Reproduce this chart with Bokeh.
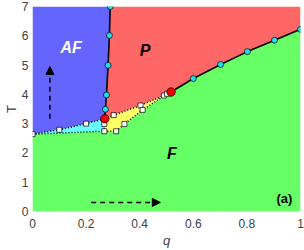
from bokeh.plotting import figure
from bokeh.models import Arrow, NormalHead, Label
from bokeh.embed import file_html
from bokeh.resources import INLINE

# ---- data ----
af_p_q = [0.270, 0.272, 0.276, 0.282, 0.287, 0.290]
af_p_T = [3.17, 3.49, 3.98, 4.99, 6.01, 7.00]
p_f_q = [0.517, 0.600, 0.702, 0.802, 0.903, 1.000]
p_f_T = [4.08, 4.54, 5.02, 5.46, 5.85, 6.22]
tri_q = [0.270, 0.517]
tri_T = [3.17, 4.08]
cyan_top_q = [0.000, 0.100, 0.200, 0.270]
cyan_top_T = [2.64, 2.79, 3.00, 3.17]
cyan_bot_q = [0.000, 0.268]
cyan_bot_T = [2.64, 2.74]
cy_vert_q = [0.270, 0.268, 0.268]
cy_vert_T = [3.17, 2.99, 2.74]
yel_top_q = [0.270, 0.303, 0.403, 0.490, 0.517]
yel_top_T = [3.17, 3.29, 3.62, 3.96, 4.08]
yel_bot_q = [0.268, 0.312, 0.343, 0.411, 0.502, 0.517]
yel_bot_T = [2.74, 2.74, 2.99, 3.47, 4.02, 4.08]
sq_q = [0.000, 0.100, 0.200, 0.268, 0.268, 0.303, 0.312, 0.343, 0.403, 0.411, 0.490, 0.502]
sq_T = [2.64, 2.79, 3.00, 2.99, 2.74, 3.29, 2.74, 2.99, 3.62, 3.47, 3.96, 4.02]
arrow_up = dict(x0=0.065, y0=3.17, x1=0.065, y1=4.95)
arrow_right = dict(x0=0.219, y0=0.31, x1=0.477, y1=0.31)
x_ticks = [0, 0.2, 0.4, 0.6, 0.8, 1]
x_tick_labels = ["0", "0.2", "0.4", "0.6", "0.8", "1"]
y_ticks = [0, 1, 2, 3, 4, 5, 6, 7]
y_tick_labels = ["0", "1", "2", "3", "4", "5", "6", "7"]
region_labels = ["AF", "P", "F"]
region_q = [0.144, 0.42, 0.52]
region_T = [5.6, 5.5, 1.97]
region_colors = ["white", "black", "black"]
x_title, y_title = "q", "T"

C_BLUE = "#6464FF"
C_RED = "#FF6666"
C_GREEN = "#66FF66"
C_CYAN = "#66FFFF"
C_YEL = "#FFFF66"

p = figure(width=304, height=250, x_range=(0, 1), y_range=(0, 7),
           output_backend="svg", toolbar_location=None,
           min_border_left=29, min_border_right=4, min_border_top=6, min_border_bottom=39)
p.outline_line_color = None
p.grid.visible = False

# ---- regions ----
green_x = [0, 1] + p_f_q[::-1] + yel_bot_q[::-1][1:] + cyan_bot_q[::-1][1:]
green_y = [0, 0] + p_f_T[::-1] + yel_bot_T[::-1][1:] + cyan_bot_T[::-1][1:]
p.patch(green_x, green_y, fill_color=C_GREEN, line_color=None)

af_x = [0] + af_p_q[::-1] + cyan_top_q[::-1][1:]
af_y = [7] + af_p_T[::-1] + cyan_top_T[::-1][1:]
p.patch(af_x, af_y, fill_color=C_BLUE, line_color=None)

pp_x = af_p_q + [1] + p_f_q[::-1] + yel_top_q[::-1][1:-1]
pp_y = af_p_T + [7] + p_f_T[::-1] + yel_top_T[::-1][1:-1]
p.patch(pp_x, pp_y, fill_color=C_RED, line_color=None)

cy_x = cyan_top_q + cy_vert_q[1:] + cyan_bot_q[::-1][1:]
cy_y = cyan_top_T + cy_vert_T[1:] + cyan_bot_T[::-1][1:]
p.patch(cy_x, cy_y, fill_color=C_CYAN, line_color=None)

ye_x = yel_top_q + yel_bot_q[::-1][1:] + [cy_vert_q[1]]
ye_y = yel_top_T + yel_bot_T[::-1][1:] + [cy_vert_T[1]]
p.patch(ye_x, ye_y, fill_color=C_YEL, line_color=None)

# ---- boundaries ----
for xs, ys in [(cyan_top_q, cyan_top_T), (cyan_bot_q, cyan_bot_T), (cy_vert_q, cy_vert_T),
               (yel_top_q, yel_top_T), (yel_bot_q, yel_bot_T)]:
    p.line(xs, ys, line_color="black", line_width=1.5, line_dash="1 2")
p.line(af_p_q, af_p_T, line_color="black", line_width=1.6)
p.line(p_f_q, p_f_T, line_color="black", line_width=1.6)

# ---- markers ----
p.scatter(af_p_q[1:] + p_f_q[1:], af_p_T[1:] + p_f_T[1:], marker="circle", size=6,
          fill_color="#22DDEE", line_color="black", line_width=0.7)
p.scatter(sq_q, sq_T, marker="square", size=5, fill_color="white",
          line_color="black", line_width=0.7)
p.scatter(tri_q, tri_T, marker="circle", size=8.5, fill_color="#EE0000",
          line_color="black", line_width=0.7)

# ---- arrows ----
for a in (arrow_up, arrow_right):
    p.add_layout(Arrow(end=NormalHead(size=8, fill_color="black", line_color="black"),
                       x_start=a["x0"], y_start=a["y0"], x_end=a["x1"], y_end=a["y1"],
                       line_color="black", line_width=1.5, line_dash="5 4"))

# ---- labels ----
for t, x, y, c in zip(region_labels, region_q, region_T, region_colors):
    p.add_layout(Label(x=x, y=y, text=t, text_color=c, text_font="Liberation Sans",
                       text_font_size="16px", text_font_style="bold italic",
                       text_align="center", text_baseline="middle"))
p.add_layout(Label(x=0.94, y=0.43, text="(a)", text_color="black", text_font="Liberation Sans",
                   text_font_size="13px", text_font_style="bold",
                   text_align="center", text_baseline="middle"))

# ---- axes ----
p.xaxis.ticker = x_ticks
p.xaxis.major_label_overrides = {t: s for t, s in zip(x_ticks, x_tick_labels)}
p.yaxis.ticker = y_ticks
p.yaxis.major_label_overrides = {t: s for t, s in zip(y_ticks, y_tick_labels)}
p.xaxis.axis_label = x_title
p.yaxis.axis_label = y_title
for ax in (p.xaxis, p.yaxis):
    ax.axis_line_color = None
    ax.major_tick_line_color = None
    ax.minor_tick_line_color = None
    ax.major_tick_out = 0
    ax.major_tick_in = 0
    ax.minor_tick_out = 0
    ax.minor_tick_in = 0
    ax.major_label_text_font = "Liberation Sans"
    ax.major_label_text_font_size = "12px"
    ax.major_label_text_color = "#404040"
    ax.axis_label_text_font = "Liberation Sans"
    ax.axis_label_text_font_size = "13px"
    ax.axis_label_text_color = "#404040"
p.xaxis.major_label_standoff = 7
p.xaxis.axis_label_standoff = 2
p.yaxis.major_label_standoff = 4
p.yaxis.axis_label_standoff = 0
p.xaxis.axis_label_text_font_style = "italic"
p.yaxis.axis_label_text_font_style = "normal"

open("out.html", "w").write(file_html(p, INLINE))
